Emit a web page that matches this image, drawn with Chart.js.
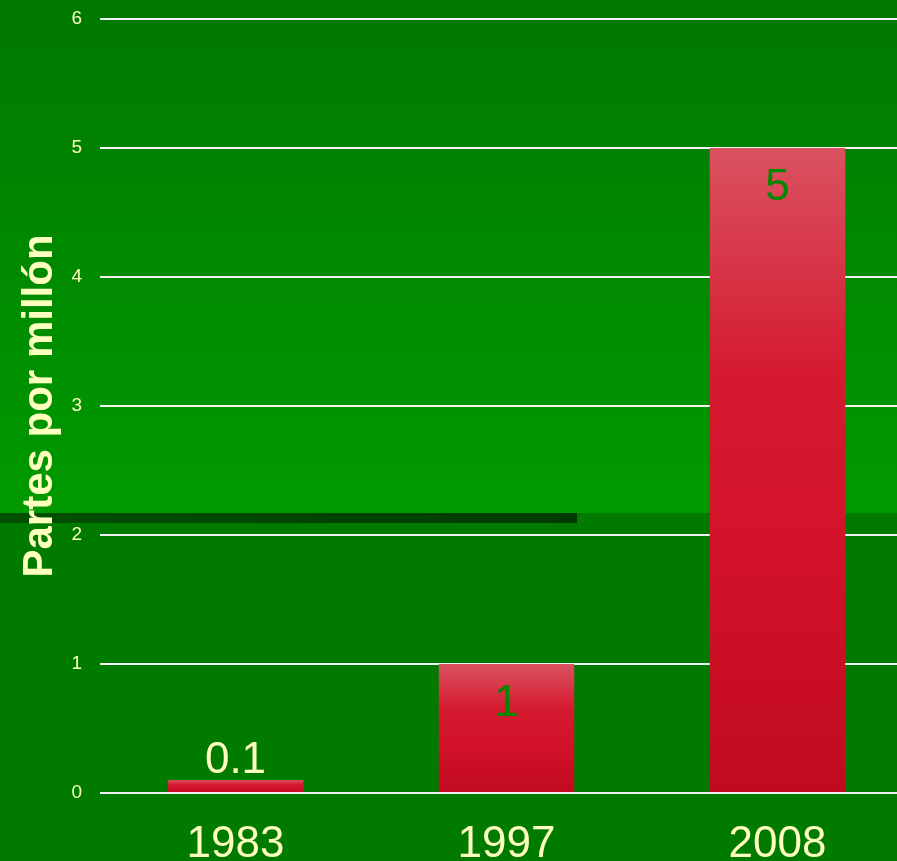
<!DOCTYPE html>
<html>
<head>
<meta charset="utf-8">
<script src="https://cdn.jsdelivr.net/npm/chart.js@4"></script>
<style>
    body { margin: 0; overflow: hidden; background: #007a00; }
    canvas { display: block; }
</style>
</head>
<body>
<canvas id="chart" width="913" height="861"></canvas>
<script>
const years = ['1983', '1997', '2008'];
const ppm = [0.1, 1, 5];
const yTicks = [0, 1, 2, 3, 4, 5, 6];

const ctx = document.getElementById('chart');

const paleYellow = '#ffffbf';

// green backdrop with the dark strip across the middle
const backdrop = {
    id: 'backdrop',
    beforeDraw(chart) {
        const c = chart.ctx;
        const w = chart.width;
        const h = chart.height;
        c.save();
        const g = c.createLinearGradient(0, 0, 0, 513);
        g.addColorStop(0, '#007800');
        g.addColorStop(1, '#009a00');
        c.fillStyle = g;
        c.fillRect(0, 0, w, 513);
        c.fillStyle = '#007b00';
        c.fillRect(0, 513, w, h - 513);
        const band = c.createLinearGradient(0, 0, 577, 0);
        band.addColorStop(0, '#005000');
        band.addColorStop(1, '#003a00');
        c.fillStyle = band;
        c.fillRect(0, 513, 577, 10);
        c.restore();
    }
};

// value labels, inside the bar when it is tall enough
const valueLabels = {
    id: 'valueLabels',
    afterDatasetsDraw(chart) {
        const c = chart.ctx;
        const meta = chart.getDatasetMeta(0);
        c.save();
        c.font = '44px "Liberation Sans", Arial, sans-serif';
        c.textAlign = 'center';
        c.textBaseline = 'middle';
        meta.data.forEach(function (bar, i) {
            const height = bar.base - bar.y;
            if (height > 60) {
                c.fillStyle = '#008800';
                c.fillText(String(ppm[i]), bar.x, bar.y + 40);
            } else {
                c.fillStyle = paleYellow;
                c.fillText(String(ppm[i]), bar.x, bar.y - 19);
            }
        });
        c.restore();
    }
};

function barFill(context) {
    const chart = context.chart;
    const yScale = chart.scales.y;
    if (!yScale || !chart.chartArea) return '#d41429';
    const top = yScale.getPixelForValue(ppm[context.dataIndex]);
    const bottom = yScale.getPixelForValue(0);
    const g = chart.ctx.createLinearGradient(0, top, 0, bottom);
    g.addColorStop(0, '#da5260');
    g.addColorStop(0.35, '#d51a30');
    g.addColorStop(0.6, '#d3132a');
    g.addColorStop(1, '#c10a20');
    return g;
}

var chart = new Chart(ctx, {
    type: 'bar',
    data: {
        labels: years,
        datasets: [{
            label: 'Partes por millón',
            data: ppm,
            backgroundColor: barFill,
            borderWidth: 0,
            barPercentage: 0.5,
            categoryPercentage: 1
        }]
    },
    options: {
        responsive: false,
        animation: false,
        layout: {
            padding: { top: 19, right: 0, bottom: 0, left: 0 }
        },
        plugins: {
            legend: { display: false },
            tooltip: { enabled: false }
        },
        scales: {
            x: {
                grid: { display: false, drawTicks: false },
                border: { display: false },
                ticks: {
                    color: paleYellow,
                    padding: 25,
                    font: { size: 44, family: '"Liberation Sans", Arial, sans-serif' }
                },
                afterFit: function (scale) {
                    scale.height = 68;
                }
            },
            y: {
                min: 0,
                max: 6,
                afterBuildTicks: function (scale) {
                    scale.ticks = yTicks.map(function (v) { return { value: v }; });
                },
                grid: {
                    color: '#f2f2f2',
                    lineWidth: 2,
                    drawTicks: true,
                    tickLength: 18,
                    tickColor: 'transparent'
                },
                border: { display: false },
                ticks: {
                    color: paleYellow,
                    padding: 0,
                    font: { size: 19, family: '"Liberation Sans", Arial, sans-serif' }
                },
                title: {
                    display: true,
                    text: 'Partes por millón',
                    color: paleYellow,
                    padding: { top: 15, bottom: 0 },
                    font: { size: 42, weight: 'bold', family: '"Liberation Sans", Arial, sans-serif' }
                },
                afterFit: function (scale) {
                    scale.width = 100;
                }
            }
        }
    },
    plugins: [backdrop, valueLabels]
});
</script>
</body>
</html>
